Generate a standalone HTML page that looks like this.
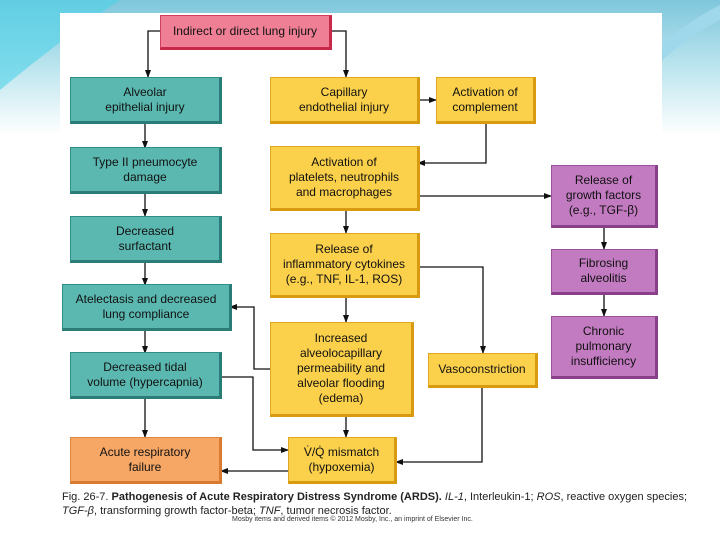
<!DOCTYPE html>
<html><head><style>
body{margin:0;width:720px;height:540px;overflow:hidden;font-family:"Liberation Sans",sans-serif;}
.bg{position:absolute;left:0;top:0;width:720px;height:540px;background:linear-gradient(180deg,#7fc6dc 0%,#b9e4ee 12%,#ffffff 25%);}
.card{position:absolute;left:60px;top:13px;width:602px;height:514px;background:#fff;}
.b{position:absolute;display:flex;align-items:center;justify-content:center;text-align:center;font-size:12px;line-height:15px;color:#111;box-sizing:border-box;}
.t{background:#5bb8b0;border:1px solid #2e8f87;border-right:3px solid #2a7d76;border-bottom:3px solid #2a7d76;}
.y{background:#fbd04a;border:1px solid #e0a820;border-right:3px solid #d89a10;border-bottom:3px solid #d89a10;}
.p{background:#c27ac0;border:1px solid #99509a;border-right:3px solid #8a3f8a;border-bottom:3px solid #8a3f8a;}
.r{background:#ee7f94;border:1px solid #d0405e;border-right:3px solid #c8284a;border-bottom:3px solid #c8284a;}
.o{background:#f6a766;border:1px solid #e08840;border-right:3px solid #d87a30;border-bottom:3px solid #d87a30;}
svg{position:absolute;left:0;top:0;}
.cap{position:absolute;left:62px;top:490px;font-size:11px;line-height:14px;color:#222;}
.cr{position:absolute;left:232px;top:516px;font-size:7px;color:#333;}
</style></head><body>
<div class="bg"></div>
<svg width="720" height="540"><path d="M0 0 L120 0 Q60 40 0 90 Z" fill="#4fd2e8" opacity="0.6"/><path d="M640 60 Q690 20 720 5 L720 20 Q690 35 660 62Z" fill="#9fd8ea"/></svg>
<div class="card"></div>
<svg width="720" height="540">
<defs><marker id="a" markerWidth="8" markerHeight="8" refX="7" refY="4" orient="auto" markerUnits="userSpaceOnUse"><path d="M0 1 L8 4 L0 7Z" fill="#111"/></marker></defs>
<g stroke="#111" stroke-width="1.3" fill="none" marker-end="url(#a)">
<path d="M160 31 H148 V77"/>
<path d="M330 31 H346 V77"/>
<path d="M145 123 V148"/>
<path d="M145 193 V216"/>
<path d="M145 262 V285"/>
<path d="M145 330 V353"/>
<path d="M145 398 V437"/>
<path d="M418 100 H436"/>
<path d="M486 123 V163 H418"/>
<path d="M418 196 H551"/>
<path d="M346 210 V233"/>
<path d="M346 297 V322"/>
<path d="M418 267 H483 V353"/>
<path d="M270 369 H254 V307 H230"/>
<path d="M220 377 H253 V450 H288"/>
<path d="M346 416 V437"/>
<path d="M288 471 H221"/>
<path d="M482 387 V462 H396"/>
<path d="M604 227 V249"/>
<path d="M604 294 V316"/>
</g></svg>
<div class="b r" style="left:160px;top:15px;width:172px;height:35px;">Indirect or direct lung injury</div>
<div class="b t" style="left:70px;top:77px;width:152px;height:47px;">Alveolar<br>epithelial injury</div>
<div class="b t" style="left:70px;top:147px;width:152px;height:47px;">Type II pneumocyte<br>damage</div>
<div class="b t" style="left:70px;top:216px;width:152px;height:47px;">Decreased<br>surfactant</div>
<div class="b t" style="left:62px;top:284px;width:170px;height:47px;">Atelectasis and decreased<br>lung compliance</div>
<div class="b t" style="left:70px;top:352px;width:152px;height:47px;">Decreased tidal<br>volume (hypercapnia)</div>
<div class="b o" style="left:70px;top:437px;width:152px;height:47px;">Acute respiratory<br>failure</div>
<div class="b y" style="left:270px;top:77px;width:150px;height:47px;">Capillary<br>endothelial injury</div>
<div class="b y" style="left:436px;top:77px;width:100px;height:47px;">Activation of<br>complement</div>
<div class="b y" style="left:270px;top:146px;width:150px;height:65px;">Activation of<br>platelets, neutrophils<br>and macrophages</div>
<div class="b y" style="left:270px;top:233px;width:150px;height:65px;">Release of<br>inflammatory cytokines<br>(e.g., TNF, IL-1, ROS)</div>
<div class="b y" style="left:270px;top:322px;width:144px;height:95px;">Increased<br>alveolocapillary<br>permeability and<br>alveolar flooding<br>(edema)</div>
<div class="b y" style="left:288px;top:437px;width:109px;height:47px;">V̇/Q̇ mismatch<br>(hypoxemia)</div>
<div class="b y" style="left:428px;top:353px;width:110px;height:35px;">Vasoconstriction</div>
<div class="b p" style="left:551px;top:165px;width:107px;height:63px;">Release of<br>growth factors<br>(e.g., TGF-β)</div>
<div class="b p" style="left:551px;top:249px;width:107px;height:46px;">Fibrosing<br>alveolitis</div>
<div class="b p" style="left:551px;top:316px;width:107px;height:63px;">Chronic<br>pulmonary<br>insufficiency</div>
<div class="cap">Fig. 26-7. <b>Pathogenesis of Acute Respiratory Distress Syndrome (ARDS).</b> <i>IL-1</i>, Interleukin-1; <i>ROS</i>, reactive oxygen species;<br><i>TGF-β</i>, transforming growth factor-beta; <i>TNF</i>, tumor necrosis factor.</div>
<div class="cr">Mosby items and derived items © 2012 Mosby, Inc., an imprint of Elsevier Inc.</div>
</body></html>
